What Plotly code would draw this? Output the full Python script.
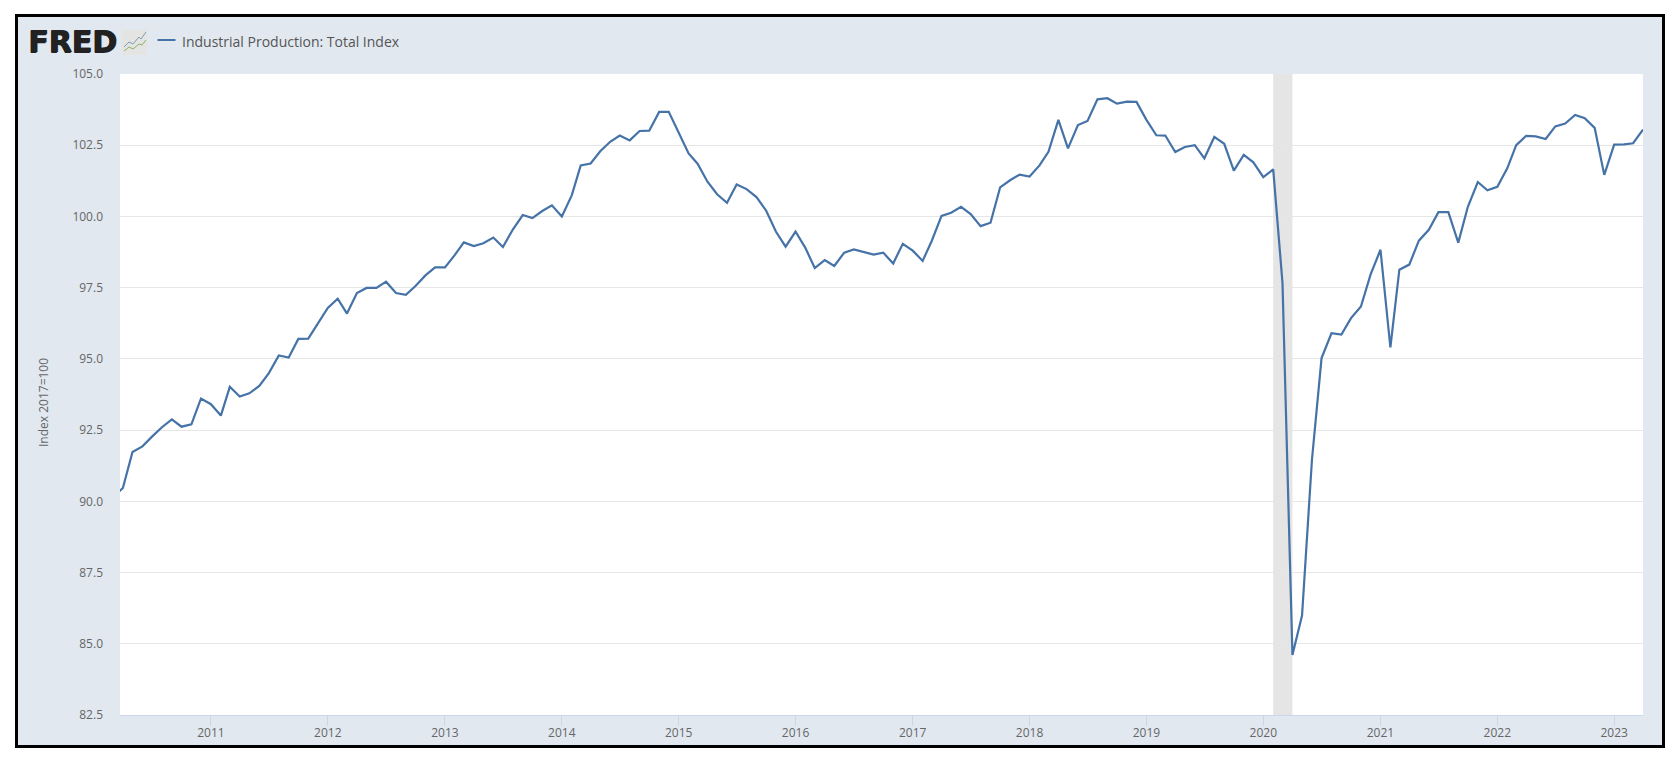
import pandas as pd
import plotly.graph_objects as go

series_name = "Industrial Production: Total Index"
y_title = "Index 2017=100"
months = pd.date_range("2010-03-01", "2023-04-01", freq="MS")
y_ticks = [82.5, 85.0, 87.5, 90.0, 92.5, 95.0, 97.5, 100.0, 102.5, 105.0]
recession = ["2020-02-01", "2020-04-01"]

values = [
    90.13, 90.47, 91.73, 91.93, 92.27, 92.60, 92.88, 92.62, 92.70, 93.61,  # 2010 Mar-Dec
    93.41, 93.01, 94.02, 93.68, 93.79, 94.05, 94.50, 95.12, 95.05, 95.70, 95.71, 96.26,  # 2011
    96.79, 97.11, 96.59, 97.31, 97.49, 97.49, 97.71, 97.31, 97.25, 97.56, 97.93, 98.21,  # 2012
    98.21, 98.65, 99.09, 98.96, 99.06, 99.26, 98.93, 99.54, 100.05, 99.94, 100.19, 100.39,  # 2013
    100.00, 100.74, 101.79, 101.86, 102.29, 102.62, 102.84, 102.67, 103.00, 103.01, 103.67, 103.67,  # 2014
    102.92, 102.21, 101.85, 101.22, 100.78, 100.48, 101.12, 100.96, 100.68, 100.21, 99.46, 98.94,  # 2015
    99.47, 98.89, 98.19, 98.47, 98.26, 98.73, 98.84, 98.76, 98.66, 98.73, 98.35, 99.04,  # 2016
    98.80, 98.44, 99.13, 100.02, 100.13, 100.34, 100.08, 99.66, 99.78, 101.02, 101.27, 101.47,  # 2017
    101.40, 101.79, 102.27, 103.39, 102.39, 103.21, 103.35, 104.11, 104.15, 103.96, 104.03, 104.02,  # 2018
    103.39, 102.85, 102.84, 102.26, 102.44, 102.50, 102.04, 102.79, 102.55, 101.61, 102.16, 101.90,  # 2019
    101.38, 101.65, 97.66, 84.61, 85.99, 91.46, 95.03, 95.90, 95.85, 96.43, 96.84, 97.96,  # 2020
    98.83, 95.40, 98.13, 98.31, 99.15, 99.53, 100.15, 100.15, 99.08, 100.34, 101.21, 100.92,  # 2021
    101.04, 101.69, 102.50, 102.83, 102.81, 102.72, 103.16, 103.26, 103.56, 103.45, 103.11, 101.46,  # 2022
    102.52, 102.53, 102.57, 103.05,  # 2023 Jan-Apr
]

BAND = "#e1e8f0"
LINE = "#4572a7"
TEXT = "#666666"
FONT = "Open Sans"
L, R, T, B = 120, 1643, 74, 715


def px(x):
    return (x - L) / (R - L)


def py(y):
    return (B - y) / (B - T)


def rect(x0, y0, x1, y1, fill):
    return dict(type="rect", xref="paper", yref="paper", layer="below",
                x0=px(x0), x1=px(x1), y0=py(y0), y1=py(y1),
                fillcolor=fill, line_width=0)


def poly(points, color, width=1):
    d = "M" + " L".join(f"{px(a):.5f},{py(b):.5f}" for a, b in points)
    return dict(type="path", xref="paper", yref="paper", path=d,
                line=dict(color=color, width=width))


shapes = [
    rect(15, 14, 1665, 748, "#000000"),
    rect(18, 17, 1662, 745, BAND),
    rect(L, T, R, B, "#ffffff"),
    dict(type="rect", xref="x", yref="paper", layer="below",
         x0=recession[0], x1=recession[1], y0=0, y1=1,
         fillcolor="#e5e5e5", line_width=0),
    # legend sample
    poly([(157.5, 40), (175.5, 40)], LINE, 2),
    # small logo icon
    rect(122, 30, 147, 55, "#e4e5e3"),
    poly([(124, 47), (129, 42), (133, 44), (139, 37), (141, 39), (146, 32)], "#7f9bb5", 1),
    poly([(124, 51), (129, 47), (133, 49), (139, 44), (142, 45), (146, 40)], "#8fae6a", 1),
]

fig = go.Figure(go.Scatter(
    x=months, y=values, mode="lines", name=series_name,
    line=dict(color=LINE, width=2.2), hoverinfo="x+y",
))

fig.update_layout(
    width=1680, height=758,
    margin=dict(l=L, r=1680 - R, t=T, b=758 - B, pad=0),
    paper_bgcolor="#ffffff",
    plot_bgcolor="rgba(0,0,0,0)",
    showlegend=False,
    font=dict(family=FONT, size=12, color=TEXT),
    shapes=shapes,
    annotations=[
        dict(text=series_name, xref="paper", yref="paper", x=px(180), y=py(41),
             xanchor="left", yanchor="middle", showarrow=False,
             font=dict(family=FONT, size=14, color="#555555")),
        dict(text="<b>FRED</b>", xref="paper", yref="paper", x=px(26), y=py(41),
             xanchor="left", yanchor="middle", showarrow=False,
             font=dict(family="DejaVu Sans", size=30, color="#222222",
                       shadow="1px 0 0 #222222, 0 1px 0 #222222")),
        dict(text=y_title, xref="paper", yref="paper", x=px(44), y=py(403),
             xanchor="center", yanchor="middle", textangle=-90, showarrow=False,
             font=dict(family=FONT, size=12, color=TEXT)),
    ],
    xaxis=dict(
        type="date", range=["2010-03-23", "2023-04-01"],
        tick0="2011-01-01", dtick="M12", tickformat="%Y",
        ticks="outside", ticklen=10, tickwidth=1, tickcolor="#ccd6eb",
        ticklabelstandoff=-3,
        showline=True, linecolor="#ccd6eb", linewidth=1,
        showgrid=False, zeroline=False,
        tickfont=dict(family=FONT, size=12, color=TEXT),
    ),
    yaxis=dict(
        range=[82.5, 105], tickvals=y_ticks, tickformat=".1f",
        showgrid=True, gridcolor="#e6e6e6", gridwidth=1,
        zeroline=False, showline=False, ticks="",
        ticklabelstandoff=16,
        tickfont=dict(family=FONT, size=12, color=TEXT),
    ),
)

fig.write_html("out.html", config=dict(displayModeBar=False),
               post_script="document.body.style.margin='0';document.body.style.overflow='hidden';")
